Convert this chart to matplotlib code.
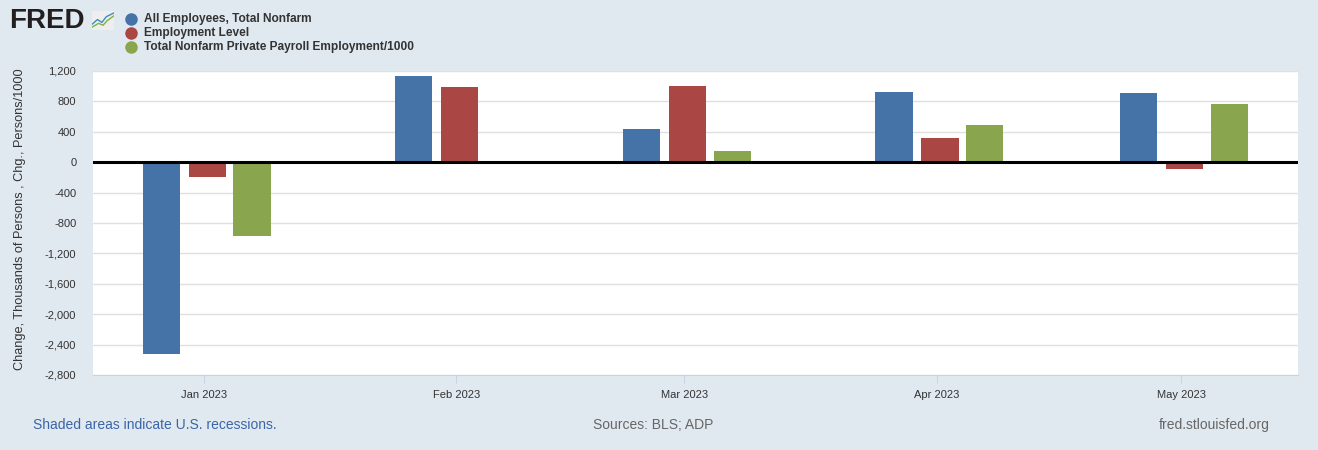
import numpy as np
import matplotlib
matplotlib.use("Agg")
import matplotlib.pyplot as plt
import matplotlib.dates as mdates
from matplotlib.lines import Line2D
from datetime import date

plt.rcParams['font.family'] = ['Liberation Sans', 'DejaVu Sans']

# data (change from previous month)
months = [date(2023, 1, 1), date(2023, 2, 1), date(2023, 3, 1), date(2023, 4, 1), date(2023, 5, 1)]
month_labels = ['Jan 2023', 'Feb 2023', 'Mar 2023', 'Apr 2023', 'May 2023']
nonfarm = [-2530, 1128, 443, 930, 904]
employment_level = [-201, 996, 1009, 312, -92]
adp_private = [-974, np.nan, 141, 496, 772]

series = ['All Employees, Total Nonfarm', 'Employment Level',
          'Total Nonfarm Private Payroll Employment/1000']
colors = ['#4572A7', '#AA4643', '#89A54E']
bg = '#E1E9F0'

W, H = 1318, 450
fig = plt.figure(figsize=(W / 100, H / 100), dpi=100, facecolor=bg)
ax = fig.add_axes([93 / W, (H - 375) / H, (1298 - 93) / W, (375 - 71) / H])
ax.set_facecolor('white')

x = mdates.date2num(months)
offsets = [-5.25, 0.4, 5.9]
width = 4.55
for vals, off, c in zip([nonfarm, employment_level, adp_private], offsets, colors):
    ax.bar(x + off, vals, width=width, color=c, zorder=3)

ax.axhline(0, color='black', lw=2.2, zorder=4)
ax.set_ylim(-2800, 1200)
ax.set_xlim(x[0] - 13.63, x[-1] + 14.37)

yt = np.arange(-2800, 1201, 400)
ax.set_yticks(yt)
ax.set_yticklabels([f'{v:,}' for v in yt], fontsize=8, color='#333333')
ax.set_xticks(x)
ax.set_xticklabels(month_labels, fontsize=8, color='#333333')
ax.grid(axis='y', color='#E0E0E0', lw=1, zorder=0)
ax.tick_params(axis='y', length=0, pad=12)
ax.tick_params(axis='x', length=6, color='#C8D4E4', pad=5, direction='out')
for s in ['top', 'right', 'left']:
    ax.spines[s].set_visible(False)
ax.spines['bottom'].set_color('#C8D4E4')

fig.text(20 / W, 1 - 219 / H, 'Change, Thousands of Persons , Chg., Persons/1000',
         rotation=90, ha='center', va='center', fontsize=9.2, color='#333333')

# logo
fig.text(9 / W, 1 - 21 / H, 'FRED', fontsize=20, fontweight='bold', color='#231F20',
         ha='left', va='center')
icon = fig.add_axes([92 / W, 1 - 30 / H, 22 / W, 19 / H])
icon.set_facecolor('#EEEEEE')
icon.plot([0, 0.25, 0.45, 0.65, 1], [0.3, 0.55, 0.4, 0.7, 0.9], color='#3C8DBC', lw=1)
icon.plot([0, 0.3, 0.5, 0.7, 1], [0.15, 0.35, 0.25, 0.5, 0.75], color='#7CB342', lw=1)
icon.set_xlim(0, 1)
icon.set_ylim(0, 1)
icon.set_xticks([])
icon.set_yticks([])
for s in icon.spines.values():
    s.set_visible(False)

# legend
for i, (name, c) in enumerate(zip(series, colors)):
    yy = 1 - (19 + 14 * i) / H
    fig.add_artist(Line2D([131 / W], [yy], marker='o', markersize=8, color=c,
                          linestyle='none', transform=fig.transFigure))
    fig.text(144 / W, yy, name, color='#333333', fontsize=8.6, fontweight='bold',
             ha='left', va='center')

# footer
fig.text(33 / W, 1 - 425 / H, 'Shaded areas indicate U.S. recessions.', color='#3B64A8',
         fontsize=10, ha='left', va='center')
fig.text(653 / W, 1 - 425 / H, 'Sources: BLS; ADP', color='#666666',
         fontsize=10, ha='center', va='center')
fig.text(1270 / W, 1 - 425 / H, 'fred.stlouisfed.org', color='#666666',
         fontsize=10, ha='right', va='center')

fig.savefig('out.png', dpi=100, facecolor=bg)
